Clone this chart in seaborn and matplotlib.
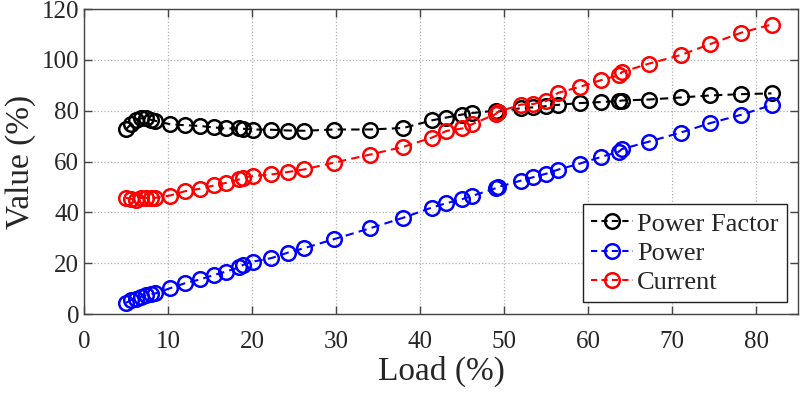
import seaborn as sns
import pandas as pd
import matplotlib
matplotlib.use("Agg")
import matplotlib.pyplot as plt

# load points (%) shared by all three series
load = [5.0, 5.6, 6.2, 6.8, 7.4, 8.0, 8.5, 10.2, 12.0, 13.8,
        15.5, 16.9, 18.5, 18.9, 20.1, 22.3, 24.3, 26.2, 29.8, 34.0,
        38.0, 41.4, 43.1, 45.0, 46.2, 49.0, 49.2, 52.0, 53.4, 55.0,
        56.4, 59.0, 61.5, 63.6, 64.0, 67.2, 71.0, 74.5, 78.2, 81.8]

power_factor = [72.7, 74.7, 76.5, 77.0, 77.0, 76.4, 76.0, 74.7, 74.3, 74.0,
                73.4, 73.0, 73.0, 72.9, 72.6, 72.5, 72.2, 72.1, 72.6, 72.6,
                73.2, 76.2, 77.3, 78.5, 79.1, 80.0, 79.6, 81.0, 81.3, 81.8,
                82.3, 83.0, 83.4, 83.8, 84.0, 84.4, 85.2, 86.0, 86.5, 86.8]

power = [4.4, 5.5, 6.1, 6.8, 7.4, 7.8, 8.1, 10.1, 12.1, 13.6,
         15.4, 16.7, 18.4, 19.3, 20.6, 22.0, 24.2, 25.9, 29.5, 33.7,
         37.9, 41.9, 43.6, 45.2, 46.5, 49.5, 49.9, 52.5, 53.8, 55.2,
         56.8, 59.2, 61.8, 63.8, 64.9, 67.8, 71.4, 75.1, 78.4, 82.2]

current = [45.7, 45.3, 44.8, 45.7, 45.7, 45.7, 45.7, 46.6, 48.3, 49.3,
           50.6, 51.6, 53.0, 53.6, 54.3, 54.9, 55.9, 56.9, 59.6, 62.7,
           65.8, 69.4, 72.0, 73.0, 74.7, 78.7, 79.5, 82.4, 82.6, 83.8,
           87.0, 89.4, 92.0, 93.9, 95.2, 98.5, 101.9, 106.2, 110.7, 113.9]

series = ["Power Factor", "Power", "Current"]
colors = ["black", "blue", "red"]

df = pd.DataFrame({
    "load": load * 3,
    "value": power_factor + power + current,
    "series": [s for s in series for _ in load],
})

sns.set_style("ticks")
plt.rcParams["font.family"] = ["Liberation Serif", "DejaVu Serif"]

fig, ax = plt.subplots(figsize=(8, 3.93), dpi=100)
fig.subplots_adjust(left=0.105, right=0.998, top=0.977, bottom=0.201)

for name, col in zip(series, colors):
    sns.lineplot(data=df[df["series"] == name], x="load", y="value",
                 estimator=None, sort=False, ax=ax, label=name,
                 color=col, linewidth=1.5, dashes=False,
                 marker="o", markersize=10.5, markerfacecolor="none",
                 markeredgecolor=col, markeredgewidth=1.8)

for line in ax.get_lines():
    line.set_dashes((4, 2.5))

ax.set_xlim(0, 85)
ax.set_ylim(0, 120)
ax.set_xticks(range(0, 81, 10))
ax.set_yticks(range(0, 121, 20))
ax.set_xlabel("Load (%)", fontsize=24, labelpad=2)
ax.set_ylabel("Value (%)", fontsize=24, labelpad=4)
ax.tick_params(direction="in", length=6, width=1, colors="#444444",
               labelcolor="#262626", labelsize=18, top=True, right=True)
ax.tick_params(axis="x", pad=12)
ax.grid(True, linestyle=":", color="#b0b0b0", linewidth=0.9)
for s in ax.spines.values():
    s.set_color("#444444")
    s.set_linewidth(1.0)

leg = ax.legend(loc="lower right", fontsize=19, fancybox=False,
                edgecolor="#222222", framealpha=1, handlelength=1.6,
                handletextpad=0.15, labelspacing=0.22, borderpad=0.3,
                borderaxespad=0.45)
leg.get_frame().set_linewidth(1.0)
for h in leg.get_lines():
    h.set_dashes((3, 2))

plt.savefig("out.png", dpi=100)
